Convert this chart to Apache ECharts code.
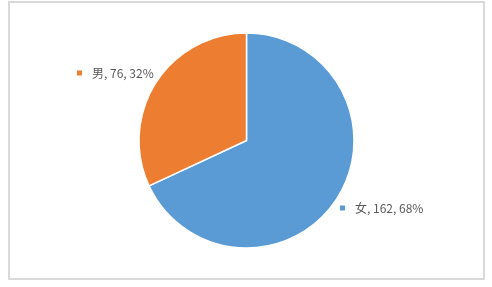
<!DOCTYPE html>
<html>
<head>
<meta charset="utf-8">
<script src="https://cdn.jsdelivr.net/npm/echarts@6/dist/echarts.min.js"></script>
<style>
html,body{margin:0;padding:0;background:#fff;}
#c{width:492px;height:287px;}
</style>
</head>
<body>
<div id="c"></div>
<script>
const categories = ['女', '男'];
const values = [162, 76];
const percents = ['68%', '32%'];
const colors = ['#5B9BD5', '#ED7D31'];

const chart = echarts.init(document.getElementById('c'), null, {renderer: 'canvas'});
const labelPos = [[340, 208], [77, 73]];
const data = categories.map((c, i) => ({
  name: c,
  value: values[i],
  itemStyle: {color: colors[i]},
  label: {
    formatter: '{m|}{t|' + c + ', ' + values[i] + ', ' + percents[i] + '}',
    rich: {
      m: {backgroundColor: colors[i], width: 5, height: 5, padding: 0},
      t: {fontSize: 12, color: '#595959', padding: [0, 0, 0, 10], fontFamily: '"Noto Sans CJK SC", "Noto Sans", sans-serif'}
    }
  }
}));
chart.setOption({
  animation: false,
  graphic: [{
    type: 'rect',
    shape: {x: 9, y: 2, width: 475, height: 277},
    style: {fill: 'none', stroke: '#d9d9d9', lineWidth: 2},
    silent: true
  }],
  series: [{
    type: 'pie',
    center: [246.5, 140.5],
    radius: 107.5,
    startAngle: 90,
    clockwise: true,
    data: data,
    itemStyle: {borderColor: '#fff', borderWidth: 1.5},
    label: {show: true, position: 'outside'},
    labelLine: {show: false},
    labelLayout: function (p) {
      const pos = labelPos[p.dataIndex];
      return {x: pos[0], y: pos[1], align: 'left', verticalAlign: 'middle'};
    },
    emphasis: {disabled: true}
  }]
});
</script>
</body>
</html>
